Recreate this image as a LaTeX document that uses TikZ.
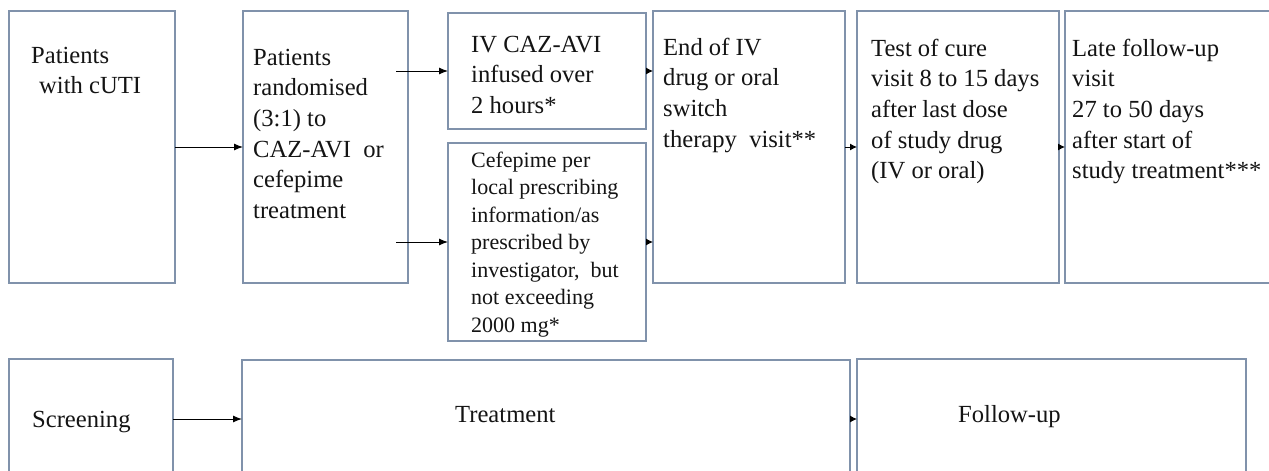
\documentclass[tikz,border=0pt]{standalone}
\usepackage{fontspec}
\setmainfont{Liberation Serif}
\usetikzlibrary{arrows.meta}
\definecolor{edge}{RGB}{128,146,171}
\definecolor{ink}{RGB}{20,20,20}
\tikzset{
  box/.style={draw=edge, line width=1.3pt, anchor=north west, inner sep=0pt, outer sep=0pt},
  lbl/.style={anchor=north west, inner sep=0pt, align=left, text=ink, font=\fontsize{24.6}{30.6}\selectfont},
  lbls/.style={lbl, font=\fontsize{22}{27.5}\selectfont},
  arr/.style={-{Latex[length=9pt,width=7pt]}, line width=1pt, draw=black},
  arrs/.style={-{Latex[length=7pt,width=7pt]}, line width=1pt, draw=black},
}
\begin{document}
\begin{tikzpicture}[x=1pt,y=-1pt]
\useasboundingbox (0,0) rectangle (1269,471);
\fill[white] (0,0) rectangle (1269,471);
\clip (0,0) rectangle (1269,471);
% top row boxes
\node[box, minimum width=166pt, minimum height=272pt] (b1) at (9,11) {};
\node[box, minimum width=165pt, minimum height=272pt] (b2) at (243,11) {};
\node[box, minimum width=198pt, minimum height=116pt] (b3) at (448,13) {};
\node[box, minimum width=198pt, minimum height=198pt] (b4) at (448,143) {};
\node[box, minimum width=192pt, minimum height=272pt] (b5) at (653,11) {};
\node[box, minimum width=202pt, minimum height=272pt] (b6) at (857,11) {};
\node[box, minimum width=240pt, minimum height=272pt] (b7) at (1065,11) {};
% bottom row boxes
\node[box, minimum width=164pt, minimum height=120pt] (sc) at (9,359) {};
\node[box, minimum width=608pt, minimum height=118pt] (tr) at (242,360) {};
\node[box, minimum width=389pt, minimum height=120pt] (fu) at (857,359) {};
% texts
\node[lbl] (t1) at (31,41.6) {\strut Patients\\\hspace*{8pt}with cUTI};
\node[lbl] (t2) at (253,43.6) {\strut Patients\\randomised\\(3:1) to\\CAZ-AVI\ \ or\\cefepime\\treatment};
\node[lbl] (t3) at (471,30.6) {\strut IV CAZ-AVI\\infused over\\2 hours*};
\node[lbls] (t4) at (471,147.75) {\strut Cefepime per\\local prescribing\\information/as\\prescribed by\\investigator,\ \ but\\not exceeding\\2000 mg*};
\node[lbl] (t5) at (663,33.6) {\strut End of IV\\drug or oral\\switch\\therapy\ \ visit**};
\node[lbl] (t6) at (871,34.6) {\strut Test of cure\\visit 8 to 15 days\\after last dose\\of study drug\\(IV or oral)};
\node[lbl] (t7) at (1072,34.6) {\strut Late follow-up\\visit\\27 to 50 days\\after start of\\study treatment***};
\node[lbl] (ts) at (32,405.6) {\strut Screening};
\node[lbl] (tt) at (455,400.6) {\strut Treatment};
\node[lbl] (tf) at (958,400.6) {\strut Follow-up};
% connectors
\path (b2.east |- b3.west) ++(-12,0) coordinate (s3);
\path (b2.east |- b4.west) ++(-12,0) coordinate (s4);
\draw[arr] (b1.east) -- (b2.west);
\draw[arr] (s3) -- (b3.west);
\draw[arr] (s4) -- (b4.west);
\draw[arrs] (b3.east) -- (b3.east -| b5.west);
\draw[arrs] (b4.east) -- (b4.east -| b5.west);
\draw[arrs] (b5.east) -- (b6.west);
\draw[arrs] (b6.east) -- (b7.west);
\draw[arr] (sc.east) -- (tr.west);
\draw[arrs] (tr.east) -- (fu.west);
\end{tikzpicture}
\end{document}
